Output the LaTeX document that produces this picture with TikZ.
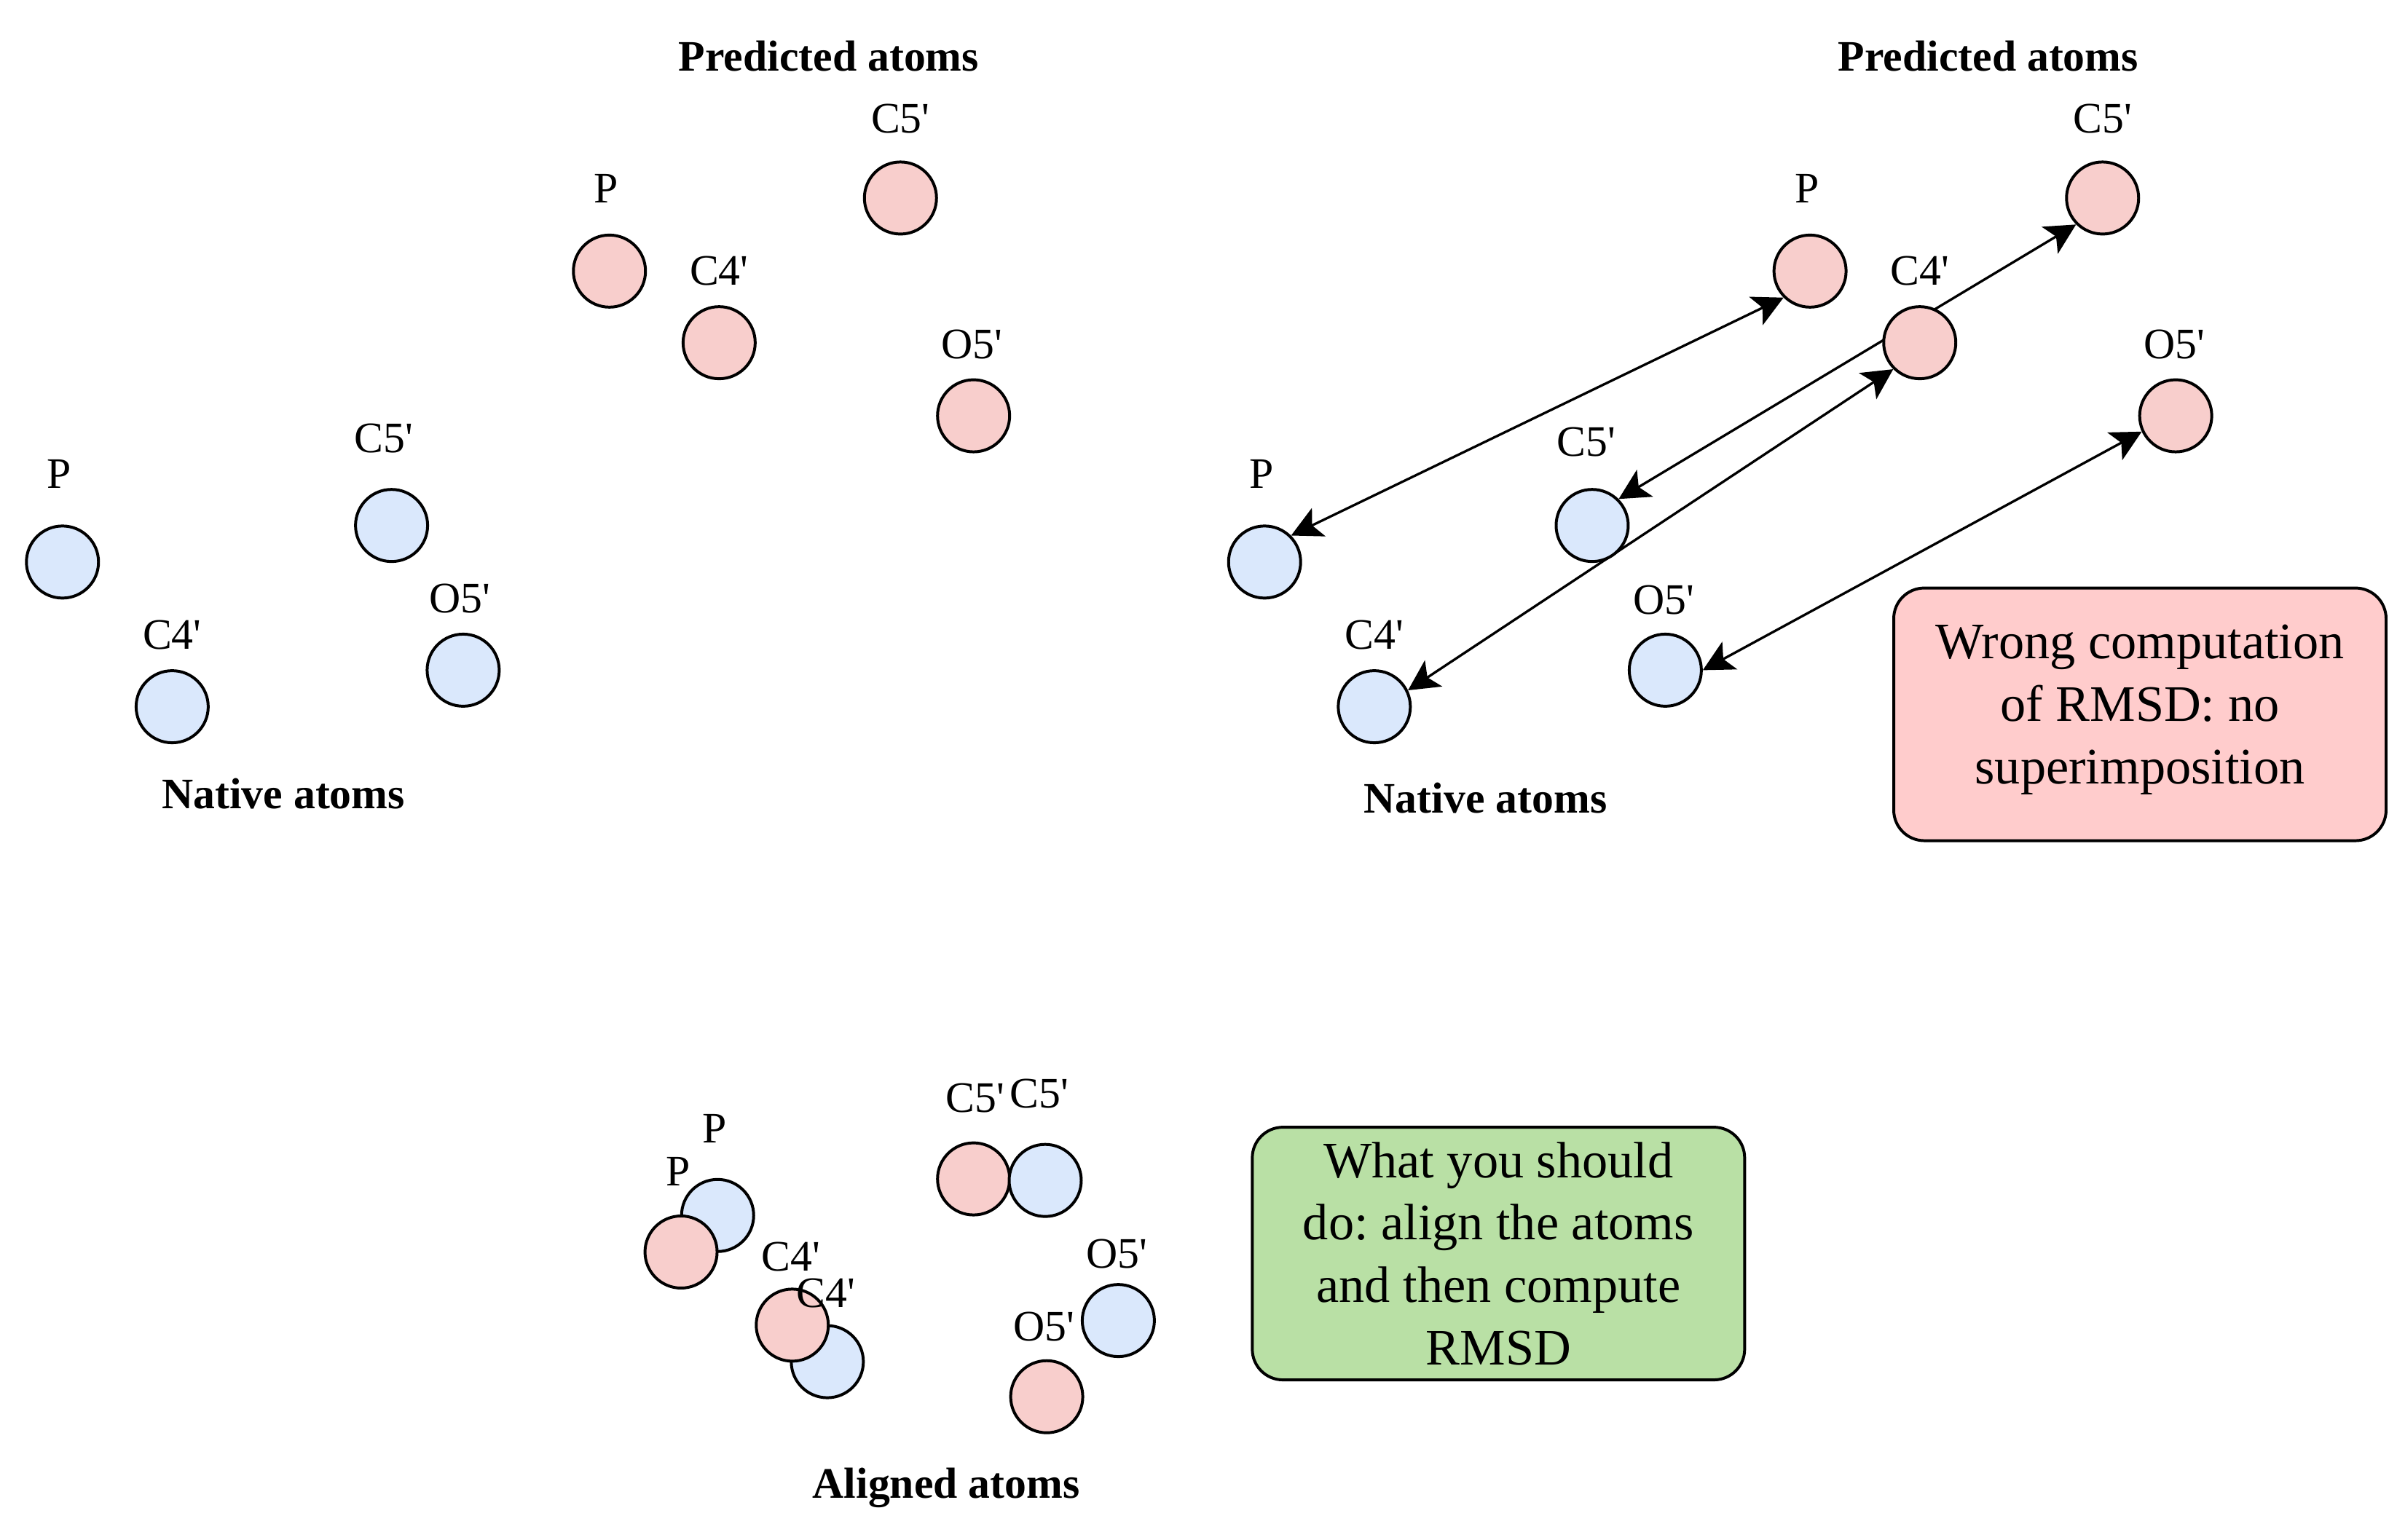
\documentclass[tikz,border=0pt]{standalone}
\usepackage{fontspec}
\setmainfont{Liberation Serif}[Ligatures=TeXOff]
\usepackage{tikz}
\usetikzlibrary{arrows.meta,backgrounds}
\definecolor{nativefill}{HTML}{DAE8FC}
\definecolor{predfill}{HTML}{F8CECC}
\definecolor{wrongfill}{HTML}{FFCCCC}
\definecolor{rightfill}{HTML}{B9E0A5}
\tikzset{
  natom/.style    = {circle,draw,line width=1.13pt,fill=nativefill,minimum size=9.9mm,inner sep=0pt},
  patom/.style    = {natom,fill=predfill},
  atomlbl/.style  = {font=\fontsize{17}{20}\selectfont,inner sep=0pt},
  grptitle/.style = {font=\fontsize{17}{20}\selectfont\bfseries,inner sep=0pt},
  notebox/.style  = {draw,line width=1.13pt,rounded corners=4.2mm,minimum width=67.6mm,minimum height=34.7mm,
                     align=center,font=\fontsize{20}{24.4}\selectfont\frenchspacing},
  rmsdarr/.style  = {{Stealth[length=4.2mm,width=4.3mm,inset=1mm]}-{Stealth[length=4.2mm,width=4.3mm,inset=1mm]},line width=0.95pt}
}

\begin{document}
\begin{tikzpicture}[x=0.2092mm,y=-0.2092mm]
  \useasboundingbox (0,0) rectangle (1568,1011);
  % left: no superimposition, no arrows
  \foreach \id/\cx/\cy/\lx/\ly/\txt in {lpP/400/178/398/124/P,lpC4/472/225/472/178/C4',
      lpC5/591/130/591/78/C5',lpO5/639/273/638/226/O5'} {
    \node[patom] (\id) at (\cx,\cy) {};
    \node[atomlbl] (\id-lbl) at (\lx,\ly) {\txt};
  }
  \foreach \id/\cx/\cy/\lx/\ly/\txt in {lnP/41/369/39/311/P,lnC5/257/345/252/288/C5',
      lnC4/113/464/113/417/C4',lnO5/304/440/302/393/O5'} {
    \node[natom] (\id) at (\cx,\cy) {};
    \node[atomlbl] (\id-lbl) at (\lx,\ly) {\txt};
  }
  \node[grptitle] (lptitle) at (544,37) {Predicted atoms};
  \node[grptitle] (lntitle) at (186,521) {Native atoms};

  % right: same atoms, paired directly
  \foreach \id/\cx/\cy/\lx/\ly/\txt in {rpP/1188/178/1186/124/P,rpC4/1260/225/1260/178/C4',
      rpC5/1380/130/1380/78/C5',rpO5/1428/273/1427/226/O5'} {
    \node[patom] (\id) at (\cx,\cy) {};
    \node[atomlbl] (\id-lbl) at (\lx,\ly) {\txt};
  }
  \foreach \id/\cx/\cy/\lx/\ly/\txt in {rnP/830/369/828/311/P,rnC5/1045/345/1041/290/C5',
      rnC4/902/464/902/417/C4',rnO5/1093/440/1092/394/O5'} {
    \node[natom] (\id) at (\cx,\cy) {};
    \node[atomlbl] (\id-lbl) at (\lx,\ly) {\txt};
  }
  \node[grptitle] (rptitle) at (1305,37) {Predicted atoms};
  \node[grptitle] (rntitle) at (975,524) {Native atoms};
  \begin{scope}[on background layer]
    \draw[rmsdarr] (rnP.north east) -- (rpP.south west);
    \draw[rmsdarr] (rnC5.north east) -- (rpC5.south west);
    \draw[rmsdarr] (rnC4.26) -- (rpC4.south west);
    \draw[rmsdarr] (rnO5.east) -- (rpO5.205);
  \end{scope}
  \node[notebox,fill=wrongfill,text depth=8pt] (wrongbox) at (1404.5,469) {Wrong computation\\of RMSD: no\\superimposition};

  % bottom: after alignment
  \node[natom] (anP) at (471,798) {};
  \node[patom] (apP) at (447,822) {};
  \node[natom] (anC4) at (543,894) {};
  \node[patom] (apC4) at (520,870) {};
  \node[patom] (apC5) at (639,774) {};
  \node[natom] (anC5) at (686,775) {};
  \node[natom] (anO5) at (734,867) {};
  \node[patom] (apO5) at (687,917) {};
  \node[atomlbl] (anP-lbl) at (469,741) {P};
  \node[atomlbl] (apP-lbl) at (445,769) {P};
  \node[atomlbl] (apC4-lbl) at (519,825) {C4'};
  \node[atomlbl] (anC4-lbl) at (542,849) {C4'};
  \node[atomlbl] (apC5-lbl) at (640,721) {C5'};
  \node[atomlbl] (anC5-lbl) at (682,718) {C5'};
  \node[atomlbl] (anO5-lbl) at (733,823) {O5'};
  \node[atomlbl] (apO5-lbl) at (685,871) {O5'};
  \node[grptitle] (atitle) at (621,977) {Aligned atoms};
  \node[notebox,fill=rightfill] (rightbox) at (983.5,823) {What you should\\do: align the atoms\\and then compute\\RMSD};
\end{tikzpicture}
\end{document}
